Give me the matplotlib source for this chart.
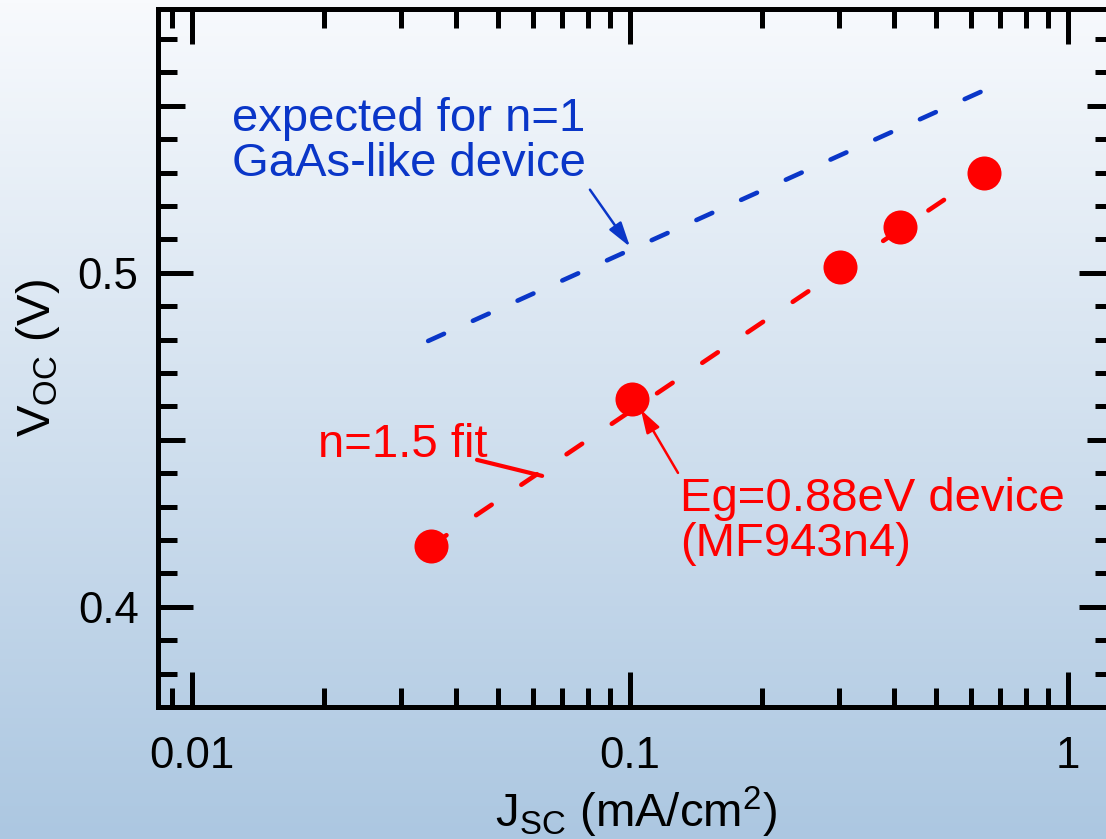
import numpy as np
import matplotlib
matplotlib.use("Agg")
import matplotlib.pyplot as plt
from matplotlib.ticker import FixedLocator, FixedFormatter, NullFormatter

plt.rcParams['font.family'] = ['Liberation Sans', 'DejaVu Sans']
plt.rcParams['mathtext.fontset'] = 'custom'
plt.rcParams['mathtext.rm'] = 'Liberation Sans'
plt.rcParams['mathtext.it'] = 'Liberation Sans:italic'

# Eg=0.88eV device (MF943n4), Voc vs Jsc
jsc = [0.0351, 0.101, 0.302, 0.413, 0.643]
voc = [0.4183, 0.4623, 0.5018, 0.5138, 0.5299]

# n=1.5 fit through the measured points
fit_jsc = [0.0351, 0.643]
fit_voc = [0.4183, 0.5299]

# expected slope for an n=1 GaAs-like device
ideal_jsc = [0.0346, 0.640]
ideal_voc = [0.4796, 0.5545]

xticks = [0.01, 0.1, 1]
xticklabels = ['0.01', '0.1', '1']
yticks = [0.40, 0.45, 0.50, 0.55]
yticklabels = ['0.4', '', '0.5', '']

RED = '#ff0000'
BLUE = '#0a36c8'

W, H = 1106, 839
fig = plt.figure(figsize=(W / 100, H / 100), dpi=100)

# soft white-to-blue backdrop
bg = fig.add_axes([0, 0, 1, 1])
top = np.array([248, 250, 253]) / 255.0
bot = np.array([172, 199, 225]) / 255.0
t = np.linspace(0, 1, 256)[:, None]
grad = top[None, :] * (1 - t) + bot[None, :] * t
bg.imshow(grad[:, None, :], aspect='auto', extent=[0, 1, 0, 1])
bg.axis('off')

ax = fig.add_axes([158 / W, 132 / H, (1114 - 158) / W, (707 - 9) / H])
ax.set_facecolor('none')
ax.set_xscale('log')
ax.set_xlim(0.00836, 1.274)
ax.set_ylim(0.370, 0.579)

ax.plot(ideal_jsc, ideal_voc, color=BLUE, lw=3.3, dashes=(3.8, 6.9),
        dash_capstyle='round', zorder=2)
ax.plot(fit_jsc, fit_voc, color=RED, lw=3.3, dashes=(4.1, 7.8),
        dash_capstyle='round', zorder=2)
ax.plot(jsc, voc, 'o', color=RED, ms=24.5, mec='none', zorder=3)

# annotations
ax.text(0.01234, 0.5527, 'expected for n=1\nGaAs-like device', color=BLUE,
        fontsize=34, va='top', ha='left', linespacing=1.02)
ax.annotate('', xy=(0.1, 0.5078), xytext=(0.0810, 0.5249),
            arrowprops=dict(arrowstyle='-|>,head_length=0.75,head_width=0.22',
                            mutation_scale=20, color=BLUE, lw=1.8,
                            shrinkA=0, shrinkB=0))

ax.text(0.0194, 0.4551, 'n=1.5 fit', color=RED, fontsize=34,
        va='top', ha='left')
ax.annotate('', xy=(0.0630, 0.4392), xytext=(0.04473, 0.4440),
            arrowprops=dict(arrowstyle='-', color=RED, lw=3.0,
                            shrinkA=0, shrinkB=0))

ax.text(0.1300, 0.4389, 'Eg=0.88eV device\n(MF943n4)', color=RED,
        fontsize=34, va='top', ha='left', linespacing=1.02)
ax.annotate('', xy=(0.1059, 0.4590), xytext=(0.1287, 0.4401),
            arrowprops=dict(arrowstyle='-|>,head_length=0.7,head_width=0.22',
                            mutation_scale=20, color=RED, lw=1.8,
                            shrinkA=0, shrinkB=0))

# axes frame and ticks
for s in ax.spines.values():
    s.set_linewidth(3.6)
    s.set_capstyle('projecting')

xminor = [k * 10.0 ** d for d in (-3, -2, -1) for k in range(2, 10)]
xminor = [v for v in xminor if 0.00836 < v < 1.0]
ax.xaxis.set_major_locator(FixedLocator(xticks))
ax.xaxis.set_major_formatter(FixedFormatter(xticklabels))
ax.xaxis.set_minor_locator(FixedLocator(xminor))
ax.xaxis.set_minor_formatter(NullFormatter())

yminor = [round(v, 2) for v in np.arange(0.37, 0.585, 0.01)]
yminor = [v for v in yminor if v not in (0.4, 0.45, 0.5, 0.55)]
ax.yaxis.set_major_locator(FixedLocator(yticks))
ax.yaxis.set_major_formatter(FixedFormatter(yticklabels))
ax.yaxis.set_minor_locator(FixedLocator(yminor))

ax.tick_params(which='both', direction='in', top=True, right=True,
               width=3.6, labelsize=31.5)
ax.tick_params(which='major', length=25)
ax.tick_params(which='minor', length=13.7)
ax.tick_params(axis='x', which='major', pad=21)
ax.tick_params(axis='y', which='major', pad=14)

# half-way ticks at 0.45 and 0.55 are mid length
for tk, lab in zip(ax.yaxis.get_major_ticks(), yticklabels):
    if lab == '':
        tk.tick1line.set_markersize(19.4)
        tk.tick2line.set_markersize(19.4)

ax.set_xlabel(r'J$_{\mathrm{SC}}$ (mA/cm$^{2}$)', fontsize=34, labelpad=5.5)
ax.set_ylabel(r'V$_{\mathrm{OC}}$ (V)', fontsize=34, labelpad=11)

fig.savefig('out.png', dpi=100)
